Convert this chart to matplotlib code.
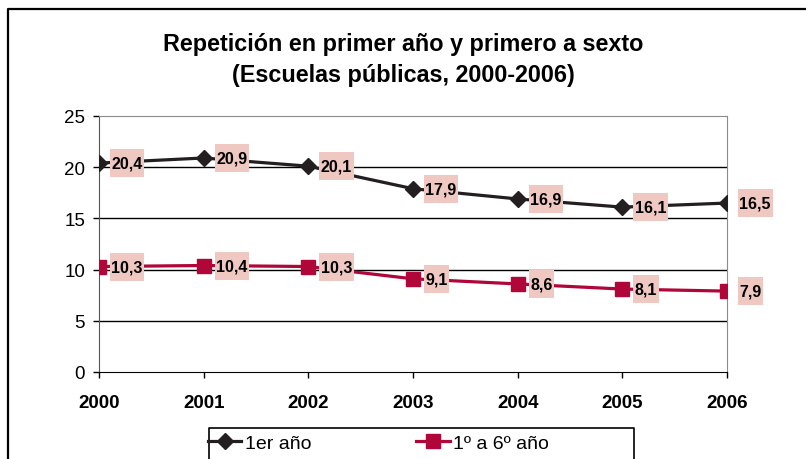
import matplotlib
matplotlib.use('Agg')
import matplotlib.pyplot as plt
from matplotlib.lines import Line2D
from matplotlib.path import Path

plt.rcParams['font.family'] = ['Liberation Sans', 'DejaVu Sans']

years = ['2000', '2001', '2002', '2003', '2004', '2005', '2006']
primer_ano = [20.4, 20.9, 20.1, 17.9, 16.9, 16.1, 16.5]
primero_sexto = [10.3, 10.4, 10.3, 9.1, 8.6, 8.1, 7.9]
series_names = ['1er año', '1º a 6º año']

W, H = 806, 460


def label_box(x0, y0, width, height, mutation_size):
    # wider vertical padding than horizontal, like the Excel labels
    px, py = 1.5, 6.5
    x1, y1 = x0 - px, y0 - py
    x2, y2 = x0 + width + px, y0 + height + py
    return Path([(x1, y1), (x2, y1), (x2, y2), (x1, y2), (x1, y1)], closed=True)


def fig_line(xs, ys, lw):
    # lines in pixel coordinates (from top-left) converted to figure fractions
    fig.add_artist(Line2D([v / W for v in xs], [1 - v / H for v in ys],
                          transform=fig.transFigure, color='black', lw=lw))


fig = plt.figure(figsize=(W / 100, H / 100), dpi=100)
ax = fig.add_axes([99 / W, 1 - 373 / H, (727 - 99) / W, (373 - 117) / H])

x = list(range(len(years)))
l1, = ax.plot(x, primer_ano, color='#231f20', lw=2.3, marker='D', ms=8.5, zorder=3,
              label=series_names[0])
l2, = ax.plot(x, primero_sexto, color='#b0063a', lw=2.3, marker='s', ms=9.5, zorder=3,
              label=series_names[1])

# data labels
for vals in (primer_ano, primero_sexto):
    for xi, v in zip(x, vals):
        ax.annotate('{:.1f}'.format(v).replace('.', ','), xy=(xi, v), xytext=(9, 0),
                    textcoords='offset points', ha='left', va='center',
                    fontsize=11.5, fontweight='bold', zorder=5, annotation_clip=False,
                    bbox=dict(boxstyle=label_box, fc='#eec8c1', ec='none'))

ax.set_xlim(0, 6)
ax.set_ylim(0, 25)
ax.set_yticks([0, 5, 10, 15, 20, 25])
ax.set_xticks(x)
ax.set_xticklabels(years, fontweight='bold', fontsize=13.5)
ax.tick_params(axis='y', labelsize=13.5, length=4, width=1, direction='out', pad=6)
ax.tick_params(axis='x', length=4, width=1, direction='out', pad=12)
for y in [5, 10, 15, 20]:
    ax.axhline(y, color='black', lw=1, zorder=1)
for s in ['top', 'right']:
    ax.spines[s].set_color('#8c8c8c')
ax.spines['left'].set_color('#555555')
ax.spines['bottom'].set_color('black')

# title
fig.text(0.5, 1 - 45 / H, 'Repetición en primer año y primero a sexto', ha='center', va='center',
         fontsize=16.8, fontweight='bold')
fig.text(0.5, 1 - 76 / H, '(Escuelas públicas, 2000-2006)', ha='center', va='center',
         fontsize=16.8, fontweight='bold')

# outer chart border and legend frame (both run past the image edge)
fig_line([8, 8, 820], [480, 10, 10], 1.6)
fig_line([209, 209, 634, 634], [480, 429, 429, 480], 1.2)

fig.legend(handles=[l1, l2], loc='center left', bbox_to_anchor=(208 / W, 1 - 444 / H),
           ncol=2, frameon=False, fontsize=14, handlelength=1.7, handletextpad=0.2,
           columnspacing=5.4, borderaxespad=0, borderpad=0)

fig.savefig('out.png', dpi=100)
